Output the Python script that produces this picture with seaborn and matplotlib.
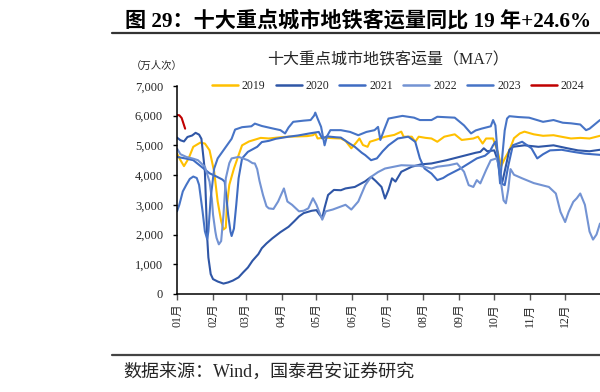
import numpy as np
import pandas as pd
import matplotlib
matplotlib.use("Agg")
import matplotlib.pyplot as plt
from matplotlib.lines import Line2D
import seaborn as sns

# ----------- data (day of year, 10k passengers, MA7) -----------

years = ["2019", "2020", "2021", "2022", "2023", "2024"]

days_2019 = [1, 4, 7, 11, 15, 21, 25, 29, 33, 36, 39, 41, 43, 44, 46, 50, 54, 57, 63, 68, 73, 80, 90, 97,
             105, 113, 118, 120, 122, 128, 135, 142, 146, 151, 155, 158, 161, 165, 167, 172, 180, 188, 194,
             196, 203, 206, 209, 215, 220, 225, 231, 240, 246, 252, 256, 260, 264, 267, 273, 277, 280, 283,
             287, 291, 296, 300, 308, 316, 325, 333, 340, 348, 356, 365]
vals_2019 = [4720, 4500, 4300, 4560, 4950, 5090, 5060, 4835, 4110, 3110, 2450, 2170, 2230, 3000, 3670, 4220,
             4670, 5000, 5130, 5190, 5250, 5230, 5270, 5290, 5300, 5310, 5340, 5400, 5230, 5260, 5240, 5230,
             5150, 4900, 5080, 5230, 5010, 4950, 5120, 5180, 5290, 5350, 5460, 5290, 5290, 5120, 5290, 5250,
             5230, 5120, 5290, 5370, 5180, 5210, 5230, 5290, 5060, 5230, 5230, 4780, 4300, 4550, 4830, 5240,
             5400, 5460, 5370, 5320, 5340, 5280, 5230, 5250, 5230, 5320]

days_2020 = [1, 4, 7, 10, 14, 17, 20, 22, 24, 25, 26, 27, 28, 30, 32, 36, 41, 45, 49, 54, 58, 62, 66, 71,
             74, 78, 83, 90, 97, 102, 106, 110, 117, 121, 124, 126, 128, 131, 136, 142, 146, 154, 163, 168,
             172, 177, 180, 183, 186, 189, 194, 203, 211, 220, 233, 245, 250, 258, 262, 265, 268, 274, 277,
             279, 281, 284, 287, 290, 300, 312, 325, 337, 346, 356, 365]
vals_2020 = [5260, 5170, 5130, 5280, 5330, 5420, 5360, 5220, 4500, 4110, 3000, 1890, 1230, 670, 500, 420,
             350, 390, 450, 560, 730, 890, 1120, 1340, 1540, 1700, 1870, 2080, 2260, 2450, 2610, 2720, 2800,
             2820, 2650, 2560, 2900, 3330, 3500, 3490, 3550, 3600, 3790, 3940, 3800, 3600, 3210, 3500, 3890,
             3780, 4110, 4280, 4360, 4390, 4500, 4620, 4670, 4750, 4780, 4900, 4800, 4830, 4500, 3950, 3780,
             4300, 4850, 4950, 5000, 4950, 5000, 4900, 4830, 4800, 4850]

days_2021 = [1, 8, 15, 22, 29, 35, 40, 42, 43, 45, 47, 48, 50, 52, 54, 57, 62, 70, 74, 80, 86, 97, 105, 115,
             123, 126, 130, 138, 142, 148, 154, 160, 163, 168, 173, 178, 183, 191, 200, 206, 210, 214, 220,
             225, 230, 234, 245, 259, 266, 270, 273, 275, 277, 279, 281, 283, 286, 290, 298, 306, 311, 316,
             322, 332, 342, 352, 365]
vals_2021 = [4610, 4560, 4500, 4280, 4060, 3950, 3850, 3780, 3450, 2670, 2100, 1950, 2200, 3000, 3890, 4560,
             4780, 4950, 5110, 5150, 5220, 5290, 5330, 5400, 5450, 5230, 5300, 5270, 5260, 5100, 4950, 4750,
             4670, 4500, 4560, 4800, 5000, 5230, 5290, 5120, 4560, 4220, 4050, 3830, 3900, 4000, 4220, 4560,
             4650, 4780, 5000, 5120, 4700, 4100, 3700, 3660, 4300, 5000, 5120, 4900, 4560, 4700, 4830, 4850,
             4780, 4720, 4680]

days_2022 = [1, 4, 9, 15, 19, 25, 29, 31, 32, 34, 35, 37, 39, 41, 43, 46, 48, 54, 62, 66, 68, 70, 72, 75,
             78, 80, 84, 88, 93, 96, 100, 106, 110, 114, 118, 121, 126, 129, 135, 146, 151, 157, 163, 168,
             174, 180, 194, 210, 220, 225, 235, 242, 248, 252, 256, 259, 262, 267, 271, 276, 278, 280, 282,
             284, 286, 288, 291, 298, 308, 316, 321, 327, 331, 335, 338, 342, 345, 348, 352, 356, 359, 362,
             365]
vals_2022 = [4890, 4700, 4610, 4550, 4500, 4280, 3780, 3200, 2670, 2100, 1890, 1670, 1780, 2670, 3890, 4400,
             4560, 4610, 4500, 4400, 4390, 4200, 3800, 3330, 2950, 2880, 2860, 3110, 3550, 3110, 3000, 2780,
             2800, 2880, 3220, 3000, 2500, 2780, 2840, 3000, 2840, 3110, 3660, 3940, 4100, 4220, 4330, 4310,
             4220, 4280, 4330, 4390, 4110, 3660, 3600, 3830, 3720, 4170, 4500, 4560, 4300, 3700, 3150, 3050,
             3500, 4200, 4010, 3890, 3730, 3650, 3600, 3380, 2760, 2420, 2760, 3100, 3220, 3380, 3000, 2100,
             1830, 2000, 2370]

days_2023 = [1, 3, 6, 9, 12, 15, 18, 20, 23, 25, 27, 28, 30, 33, 36, 42, 48, 51, 57, 65, 68, 74, 83, 90, 94,
             97, 101, 110, 116, 119, 120, 122, 125, 128, 130, 133, 142, 150, 157, 164, 171, 174, 176, 179,
             183, 195, 205, 210, 220, 225, 240, 244, 248, 254, 258, 263, 271, 273, 275, 277, 279, 281, 283,
             285, 287, 295, 304, 316, 325, 333, 340, 348, 353, 356, 365]
vals_2023 = [2780, 3000, 3450, 3670, 3870, 3950, 3900, 3670, 2780, 2110, 1840, 2110, 3230, 4220, 4560, 4890,
             5220, 5530, 5610, 5640, 5730, 5650, 5570, 5510, 5400, 5600, 5790, 5830, 5850, 6000, 6100, 5900,
             5620, 5000, 5300, 5510, 5510, 5450, 5340, 5450, 5510, 5620, 5180, 5500, 5900, 5990, 5930, 5850,
             5850, 5960, 5930, 5800, 5670, 5400, 5500, 5560, 5640, 5850, 5670, 4670, 3720, 4670, 5500, 5900,
             5980, 5950, 5930, 5790, 5850, 5760, 5740, 5700, 5510, 5560, 5850]

days_2024 = [1, 3, 5, 6, 7, 8]
vals_2024 = [6020, 6010, 5920, 5800, 5680, 5560]

colors = ["#FFC000", "#2F56A6", "#3F6CC2", "#7393D3", "#4774C6", "#C00000"]

month_days = [1, 32, 60, 91, 121, 152, 182, 213, 244, 274, 305, 335]
month_labels = ["01月", "02月", "03月", "04月", "05月", "06月",
                "07月", "08月", "09月", "10月", "11月", "12月"]

# ----------- long dataframe -----------

frames = []
for yr, d, v in zip(years,
                    [days_2019, days_2020, days_2021, days_2022, days_2023, days_2024],
                    [vals_2019, vals_2020, vals_2021, vals_2022, vals_2023, vals_2024]):
    frames.append(pd.DataFrame({"day": d, "value": v, "year": yr}))
df = pd.concat(frames, ignore_index=True)

# ----------- plot -----------

sns.set_theme(style="white")
plt.rcParams["font.family"] = ["Liberation Serif", "Noto Sans CJK SC"]
plt.rcParams["axes.unicode_minus"] = False

fig = plt.figure(figsize=(6.0, 3.92), dpi=100)
ax = fig.add_axes([0.295, 0.25, 0.705, 0.531])

sns.lineplot(data=df, x="day", y="value", hue="year", hue_order=years,
             palette=dict(zip(years, colors)), estimator=None, sort=False,
             linewidth=1.5, ax=ax, legend=False)

ax.set_xlim(1, 365)
ax.set_ylim(0, 7000)
ax.set_yticks(range(0, 7001, 1000))
ax.set_yticklabels([f"{v:,}" for v in range(0, 7001, 1000)], fontsize=9)
ax.set_xticks(month_days)
ax.set_xticklabels(month_labels, rotation=90, fontsize=8.5)
ax.set_xlabel("")
ax.set_ylabel("")
ax.tick_params(axis="y", length=3, width=1, pad=7, color="black", direction="out", left=True)
ax.tick_params(axis="x", length=4, width=1, pad=3, color="#555555", direction="out", bottom=True)
sns.despine(ax=ax)
for s in ["left", "bottom"]:
    ax.spines[s].set_color("black")
    ax.spines[s].set_linewidth(1.1)

handles = [Line2D([0], [0], color=c, lw=1.8) for c in colors]
fig.legend(handles, years, loc="center left", bbox_to_anchor=(0.353, 0.781), ncol=6,
           frameon=False, fontsize=8.5, handlelength=2.2, handletextpad=0.35,
           columnspacing=0.85, borderpad=0, borderaxespad=0)

# ----------- titles / decorations -----------

fig.text(0.208, 0.946, "图 29：十大重点城市地铁客运量同比 19 年+24.6%", fontsize=15.2,
         fontweight="bold", ha="left", va="center", color="black")
fig.add_artist(Line2D([0.187, 1.0], [0.916, 0.916], color="#333333", lw=1.6))
fig.text(0.646, 0.847, "十大重点城市地铁客运量（MA7）", fontsize=11.5, ha="center", va="center")
fig.text(0.262, 0.832, "（万人次）", fontsize=7.5, ha="center", va="center")
fig.add_artist(Line2D([0.187, 1.0], [0.094, 0.094], color="#444444", lw=1.6))
fig.text(0.205, 0.051, "数据来源：Wind，国泰君安证券研究", fontsize=13, ha="left", va="center")

fig.savefig("out.png", dpi=100)
